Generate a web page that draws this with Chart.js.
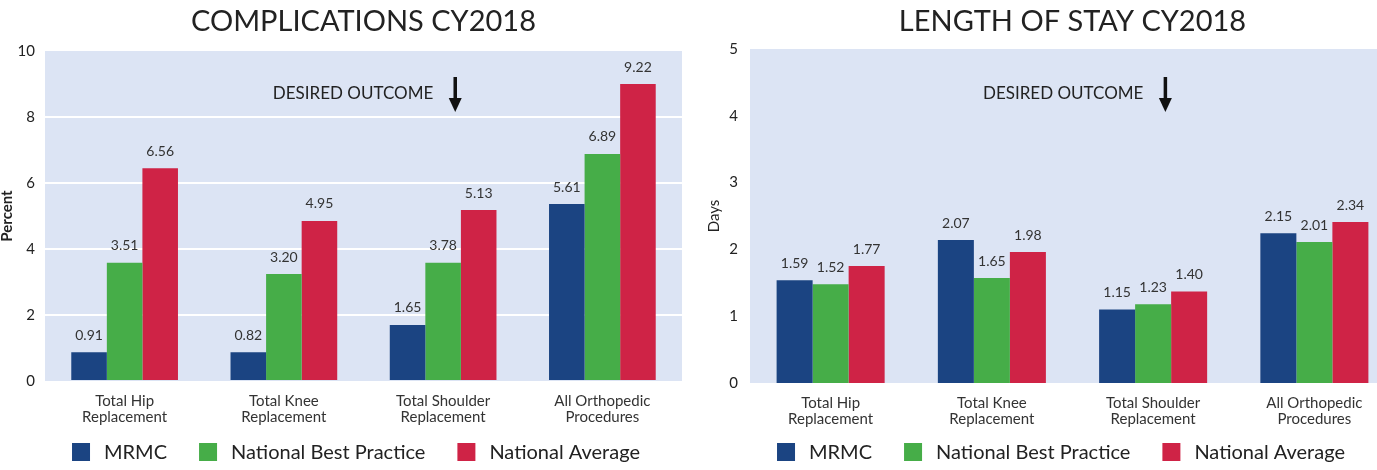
<!DOCTYPE html>
<html>
<head>
<meta charset="utf-8">
<script src="https://cdn.jsdelivr.net/npm/chart.js@4.4.1/dist/chart.umd.min.js"></script>
<style>
  html, body { margin: 0; padding: 0; background: #fff; overflow: hidden; width: 1377px; height: 470px; }
  #left  { position: absolute; left: 0;     top: 0; width: 690px; height: 470px; }
  #right { position: absolute; left: 690px; top: 0; width: 705px; height: 470px; }
</style>
</head>
<body>
<div id="left"><canvas id="compChart"></canvas></div>
<div id="right"><canvas id="losChart"></canvas></div>
<script>
// ---------------- DATA ----------------
const categories = [
  ["Total Hip", "Replacement"],
  ["Total Knee", "Replacement"],
  ["Total Shoulder", "Replacement"],
  ["All Orthopedic", "Procedures"]
];
const seriesNames = ["MRMC", "National Best Practice", "National Average"];
const seriesColors = ["#1b4482", "#46ad48", "#cf2346"];

// complications (percent) - bar heights as drawn
const compMRMC = [0.87, 0.87, 1.70, 5.36];
const compBest = [3.58, 3.24, 3.58, 6.88];
const compAvg  = [6.45, 4.85, 5.18, 9.00];
// printed value labels
const compMRMCText = ["0.91", "0.82", "1.65", "5.61"];
const compBestText = ["3.51", "3.20", "3.78", "6.89"];
const compAvgText  = ["6.56", "4.95", "5.13", "9.22"];

// length of stay (days) - bar heights as drawn
const losMRMC = [1.54, 2.14, 1.10, 2.24];
const losBest = [1.48, 1.57, 1.18, 2.11];
const losAvg  = [1.75, 1.96, 1.37, 2.41];
const losMRMCText = ["1.59", "2.07", "1.15", "2.15"];
const losBestText = ["1.52", "1.65", "1.23", "2.01"];
const losAvgText  = ["1.77", "1.98", "1.40", "2.34"];

const compTicks = [0, 2, 4, 6, 8, 10];
const losTicks = [0, 1, 2, 3, 4, 5];

const FONT = "Lato, 'Open Sans', sans-serif";
const SHADE = "#dce4f4";

// ---------------- DECOR PLUGIN ----------------
const decor = {
  id: "decor",
  beforeDraw(chart, args, opts) {
    const a = chart.chartArea;
    const ctx = chart.ctx;
    ctx.save();
    ctx.fillStyle = SHADE;
    ctx.fillRect(a.left, a.top, a.right - a.left, a.bottom - a.top);
    ctx.restore();
  },
  afterDatasetsDraw(chart, args, opts) {
    const ctx = chart.ctx;
    ctx.save();
    ctx.font = "14px " + FONT;
    ctx.fillStyle = "#333";
    ctx.textAlign = "center";
    ctx.textBaseline = "middle";
    chart.data.datasets.forEach((ds, i) => {
      const meta = chart.getDatasetMeta(i);
      meta.data.forEach((bar, j) => {
        ctx.fillText(opts.texts[i][j], bar.x, bar.y - 17);
      });
    });
    ctx.restore();
  },
  afterDraw(chart, args, opts) {
    const a = chart.chartArea;
    const ctx = chart.ctx;
    ctx.save();

    // title
    ctx.font = "29px " + FONT;
    ctx.fillStyle = "#222";
    ctx.textAlign = "center";
    ctx.textBaseline = "middle";
    ctx.fillText(opts.title, (a.left + a.right) / 2, 22);

    // desired outcome
    const ax = a.left + 0.644 * (a.right - a.left);
    ctx.font = "17px " + FONT;
    ctx.textAlign = "right";
    ctx.fillText("DESIRED OUTCOME", ax - 22, 94);
    ctx.strokeStyle = "#111";
    ctx.fillStyle = "#111";
    ctx.lineWidth = 3.5;
    ctx.beginPath();
    ctx.moveTo(ax, 77);
    ctx.lineTo(ax, 102);
    ctx.stroke();
    ctx.beginPath();
    ctx.moveTo(ax - 6.5, 98);
    ctx.lineTo(ax + 6.5, 98);
    ctx.lineTo(ax, 112);
    ctx.closePath();
    ctx.fill();

    // legend
    ctx.font = "20px " + FONT;
    ctx.textAlign = "left";
    const box = 18, gapText = 14, gapItem = 32;
    let total = 0;
    const widths = seriesNames.map(n => ctx.measureText(n).width);
    widths.forEach((w, i) => { total += box + gapText + w + (i < widths.length - 1 ? gapItem : 0); });
    let x = opts.legendCenter - total / 2;
    const ly = 452;
    seriesNames.forEach((n, i) => {
      ctx.fillStyle = seriesColors[i];
      ctx.fillRect(x, ly - 9, box, box);
      ctx.fillStyle = "#222";
      ctx.fillText(n, x + box + gapText, ly + 1);
      x += box + gapText + widths[i] + gapItem;
    });
    ctx.restore();
  }
};

function makeChart(id, series, texts, ticks, yTitle, cfg) {
  return new Chart(document.getElementById(id), {
    type: "bar",
    data: {
      labels: categories,
      datasets: series.map((d, i) => ({
        label: seriesNames[i],
        data: d,
        backgroundColor: seriesColors[i],
        borderWidth: 0,
        barPercentage: 1,
        categoryPercentage: 0.67
      }))
    },
    options: {
      responsive: true,
      maintainAspectRatio: false,
      animation: false,
      layout: { padding: cfg.padding },
      plugins: {
        legend: { display: false },
        title: { display: false },
        tooltip: { enabled: false },
        decor: { title: cfg.title, texts: texts, legendCenter: cfg.legendCenter }
      },
      scales: {
        x: {
          grid: { display: false, drawTicks: false },
          border: { display: false },
          ticks: { font: { family: FONT, size: 15, lineHeight: 1.08 }, color: "#333", padding: 12, maxRotation: 0 },
          afterFit(scale) { scale.height = 50; }
        },
        y: {
          min: ticks[0],
          max: ticks[ticks.length - 1],
          afterBuildTicks(scale) { scale.ticks = ticks.map(v => ({ value: v })); },
          grid: {
            display: cfg.grid,
            drawTicks: false,
            lineWidth: 2,
            color: c => (c.tick && (c.tick.value === ticks[0] || c.tick.value === ticks[ticks.length - 1])) ? "rgba(0,0,0,0)" : "#ffffff"
          },
          border: { display: false },
          ticks: { font: { family: FONT, size: 15 }, color: "#222", padding: cfg.tickPad },
          title: {
            display: true,
            text: yTitle,
            color: "#222",
            font: { family: FONT, size: 15, weight: cfg.titleWeight },
            padding: { top: cfg.titlePad, bottom: 0 }
          },
          afterFit(scale) { scale.width = cfg.yWidth; }
        }
      }
    },
    plugins: [decor]
  });
}

makeChart("compChart", [compMRMC, compBest, compAvg], [compMRMCText, compBestText, compAvgText], compTicks, "Percent", {
  title: "COMPLICATIONS CY2018",
  padding: { top: 51, bottom: 39, left: 0, right: 8 },
  legendCenter: 356,
  grid: true,
  tickPad: 10,
  titlePad: -2,
  titleWeight: "bold",
  yWidth: 45
});

makeChart("losChart", [losMRMC, losBest, losAvg], [losMRMCText, losBestText, losAvgText], losTicks, "Days", {
  title: "LENGTH OF STAY CY2018",
  padding: { top: 49, bottom: 37, left: 0, right: 0 },
  legendCenter: 371,
  grid: false,
  tickPad: 12,
  titlePad: 15,
  titleWeight: "normal",
  yWidth: 60
});
</script>
</body>
</html>
